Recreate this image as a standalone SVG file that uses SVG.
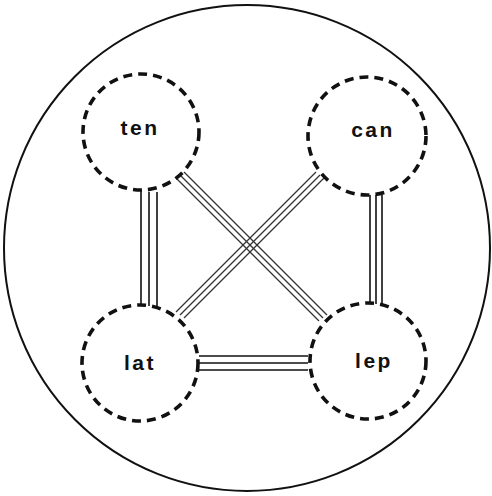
<svg xmlns="http://www.w3.org/2000/svg" width="492" height="496" viewBox="0 0 492 496">
<style>
.node{fill:none;stroke:#111;stroke-width:3.6;stroke-dasharray:9 6;}
.lbl{font-family:"Liberation Sans",Arial,sans-serif;font-weight:bold;font-size:21px;letter-spacing:2.5px;fill:#111;text-anchor:middle;}
.c{stroke:#111;stroke-width:1.6;fill:none;}
.d{stroke:#333;stroke-width:1.2;fill:none;}
</style>
<rect width="492" height="496" fill="#fff"/>
<circle cx="247" cy="248" r="243" fill="none" stroke="#111" stroke-width="2"/>
<g id="connectors">
<g id="ten-lat"><line class="c" x1="141" y1="190" x2="141" y2="306"/><line class="c" x1="149" y1="192" x2="149" y2="306"/><line class="c" x1="157" y1="192" x2="157" y2="306"/></g>
<g id="can-lep"><line class="c" x1="370" y1="195" x2="370" y2="304"/><line class="c" x1="376" y1="195" x2="376" y2="304"/><line class="c" x1="382" y1="195" x2="382" y2="304"/></g>
<g id="lat-lep"><line class="c" x1="199" y1="356" x2="308" y2="356"/><line class="c" x1="199" y1="363" x2="308" y2="363"/><line class="c" x1="199" y1="370" x2="308" y2="370"/></g>
<g id="ten-lep"><line class="d" x1="184" y1="172" x2="327" y2="315"/><line class="d" x1="180" y1="175" x2="323" y2="318"/><line class="d" x1="176" y1="178" x2="319" y2="321"/></g>
<g id="can-lat"><line class="d" x1="316" y1="172" x2="176" y2="312"/><line class="d" x1="320" y1="175" x2="180" y2="315"/><line class="d" x1="324" y1="178" x2="184" y2="318"/></g>
</g>
<g id="ten"><circle class="node" cx="141" cy="132" r="58"/><text class="lbl" x="140" y="135">ten</text></g>
<g id="can"><circle class="node" cx="367" cy="136" r="59"/><text class="lbl" x="373" y="137">can</text></g>
<g id="lat"><circle class="node" cx="140" cy="363" r="58"/><text class="lbl" x="140" y="370">lat</text></g>
<g id="lep"><circle class="node" cx="368" cy="361" r="58"/><text class="lbl" x="374" y="368">lep</text></g>
</svg>
